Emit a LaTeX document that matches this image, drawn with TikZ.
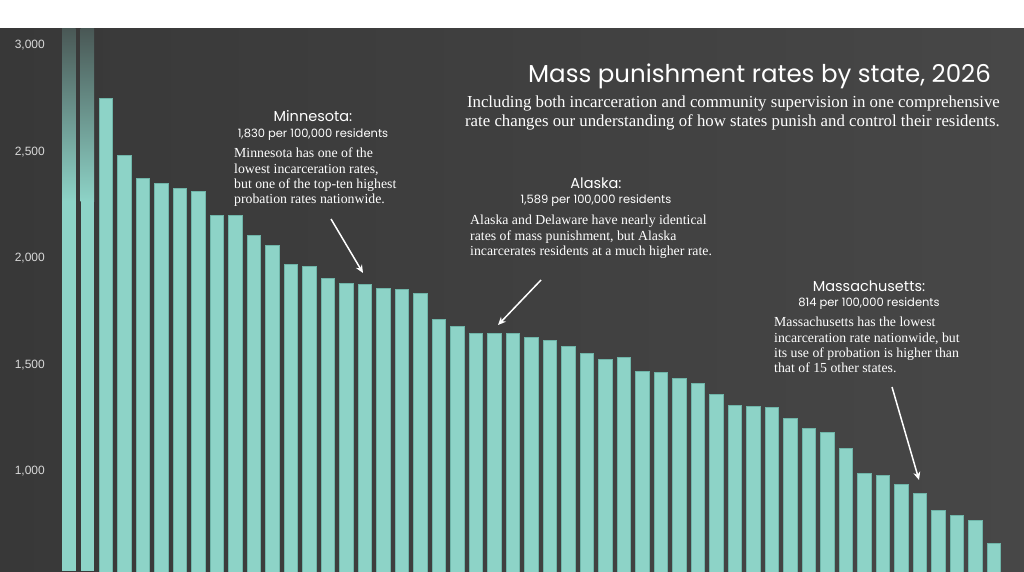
\documentclass[tikz,border=0pt]{standalone}
\usepackage{fontspec}
\setmainfont{Liberation Serif}
\newfontfamily\geo{Poppins}
\newfontfamily\axf{Liberation Sans}
\usetikzlibrary{arrows.meta}
\definecolor{barc}{HTML}{8DD3C7}
\definecolor{barl}{HTML}{6FB5A9}
\definecolor{bgd}{HTML}{383838}
\definecolor{bgl}{HTML}{474747}
\tikzset{
  bar/.style={fill=barc,draw=barl,line width=0.5pt},
  ax/.style={font=\axf\fontsize{12}{14}\selectfont,text=white!85!black,anchor=east,inner sep=0},
  hd/.style={font=\geo\fontsize{14.5}{17}\selectfont,text=white,inner sep=0},
  sub/.style={font=\geo\fontsize{11.5}{13}\selectfont,text=white,inner sep=0},
  para/.style={font=\fontsize{13.8}{15.3}\selectfont,text=white,align=left,anchor=north west,inner sep=0},
  arr/.style={draw=white,line width=1.5pt,-{Stealth[length=8pt,width=7pt]}}
}
\begin{document}
\begin{tikzpicture}[x=1pt,y=-1pt]
\useasboundingbox (0,0) rectangle (1024,571);
\fill[white] (0,0) rectangle (1024,28);
\shade[left color=bgd,right color=bgl] (0,28) rectangle (1024,571);
% first two faded bars
\foreach \i in {0,1}{
  \fill[barc] (62+\i*18.5,195) rectangle (75.5+\i*18.5,571);
  \shade[top color=bgd!80!barc,bottom color=barc] (62+\i*18.5,28) rectangle (75.5+\i*18.5,201);
}
\foreach \t [count=\n from 2] in {98.3,155,178.7,183,188.3,191,215,215,235.3,245,264.3,266.3,278.7,283,284.7,288,289.7,293,319.3,326,333.3,333.3,333.3,337.7,340.3,346.3,353.3,359,357.3,371,372.3,378.3,383.7,394.7,405.3,406.7,407.3,418.3,428.7,432.7,448.3,473.7,475.3,484.3,493,510.3,515.7,520,543}{
  \draw[bar] (62+\n*18.5,\t) rectangle (75.5+\n*18.5,572);
}
% axis
\node[ax] (y3) at (45,45) {3,000};
\node[ax] (y25) at (45,152) {2,500};
\node[ax] (y2) at (45,258) {2,000};
\node[ax] (y15) at (45,365) {1,500};
\node[ax] (y1) at (45,471) {1,000};
% title
\node[font=\geo\fontsize{24.5}{28}\selectfont,text=white,anchor=east,inner sep=0] (title) at (991,76) {Mass punishment rates by state, 2026};
\node[font=\fontsize{16.8}{18.5}\selectfont,text=white,align=right,anchor=north east,inner sep=0] (subt) at (1000,96) {Including both incarceration and community supervision in one comprehensive\\rate changes our understanding of how states punish and control their residents.};
% Minnesota
\node[hd] (mnh) at (313,116) {Minnesota:};
\node[sub] (mns) at (313,135) {1,830 per 100,000 residents};
\node[para] (mnp) at (234,148) {Minnesota has one of the\\lowest incarceration rates,\\but one of the top-ten highest\\probation rates nationwide.};
\coordinate (mna) at (331,219);
\coordinate (mnb) at (363,273);
\draw[arr] (mna) -- (mnb);
% Alaska
\node[hd] (akh) at (596,183) {Alaska:};
\node[sub] (aks) at (596,201) {1,589 per 100,000 residents};
\node[para] (akp) at (470,215) {Alaska and Delaware have nearly identical\\rates of mass punishment, but Alaska\\incarcerates residents at a much higher rate.};
\coordinate (aka) at (541,280);
\coordinate (akb) at (498,325);
\draw[arr] (aka) -- (akb);
% Massachusetts
\node[hd] (mah) at (869,286) {Massachusetts:};
\node[sub] (mas) at (869,304) {814 per 100,000 residents};
\node[para] (map) at (774,317) {Massachusetts has the lowest\\incarceration rate nationwide, but\\its use of probation is higher than\\that of 15 other states.};
\coordinate (maa) at (892,387);
\coordinate (mab) at (919,480);
\draw[arr] (maa) -- (mab);
\end{tikzpicture}
\end{document}
